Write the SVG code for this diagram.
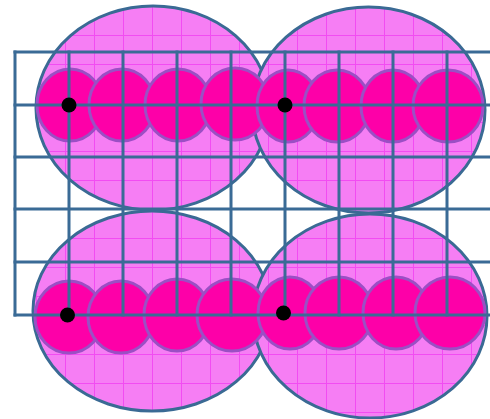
<svg xmlns="http://www.w3.org/2000/svg" width="490" height="419" viewBox="0 0 490 419">
<defs>
<pattern id="tex" patternUnits="userSpaceOnUse" x="7" y="6" width="29" height="29">
<rect width="29" height="29" fill="#f67ef4"/>
<path d="M0 0.5H29M0.5 0V29" stroke="#f24cf2" stroke-width="1" fill="none"/>
</pattern>
</defs>
<style>
.big{fill:url(#tex);stroke:#3a6a94;stroke-width:3}
.sm{fill:#fd00a8;stroke:#9b4fc4;stroke-width:3}
.grid{stroke:#3a6b96;stroke-width:3;fill:none;stroke-linecap:square}
.dot{fill:#000}
</style>
<g id="ellipses">
<g id="ellipse-tl"><ellipse class="big" cx="153" cy="108" rx="117" ry="102"/></g>
<g id="ellipse-tr"><ellipse class="big" cx="368.5" cy="110" rx="116.5" ry="103"/></g>
<g id="ellipse-bl"><ellipse class="big" cx="152" cy="311" rx="119" ry="100"/></g>
<g id="ellipse-br"><ellipse class="big" cx="370" cy="316" rx="117" ry="102"/></g>
</g>
<g id="circles">
<g id="row-tl">
<ellipse class="sm" cx="70" cy="105" rx="33" ry="36"/>
<ellipse class="sm" cx="122" cy="105" rx="33" ry="36"/>
<ellipse class="sm" cx="178" cy="105" rx="33" ry="36"/>
<ellipse class="sm" cx="235" cy="104" rx="34" ry="36"/>
</g>
<g id="row-tr">
<ellipse class="sm" cx="288" cy="106" rx="31" ry="36"/>
<ellipse class="sm" cx="337" cy="106" rx="33" ry="36"/>
<ellipse class="sm" cx="393" cy="106" rx="32" ry="36"/>
<ellipse class="sm" cx="448" cy="106" rx="35" ry="36"/>
</g>
<g id="row-bl">
<ellipse class="sm" cx="69" cy="317" rx="34" ry="36"/>
<ellipse class="sm" cx="121" cy="317" rx="33" ry="36"/>
<ellipse class="sm" cx="177" cy="315" rx="33" ry="36"/>
<ellipse class="sm" cx="232" cy="315" rx="35" ry="36"/>
</g>
<g id="row-br">
<ellipse class="sm" cx="290" cy="313" rx="32" ry="36"/>
<ellipse class="sm" cx="339" cy="313" rx="34" ry="36"/>
<ellipse class="sm" cx="396" cy="313" rx="33" ry="36"/>
<ellipse class="sm" cx="450" cy="313" rx="35" ry="36"/>
</g>
</g>
<g id="connectors" class="grid">
<path d="M15 52H490M15 105H490M15 157H490M15 209H490M15 262H490M15 315H490"/>
<path d="M15 52V315M69 52V315M123 52V315M177 52V315M231 52V315M285 52V315M339 52V315M393 52V315M447 52V315"/>
</g>
<g id="dots">
<circle class="dot" cx="69" cy="105" r="7.5"/>
<circle class="dot" cx="285" cy="105" r="7.5"/>
<circle class="dot" cx="67.5" cy="315" r="7.5"/>
<circle class="dot" cx="283.5" cy="313" r="7.5"/>
</g>
</svg>
